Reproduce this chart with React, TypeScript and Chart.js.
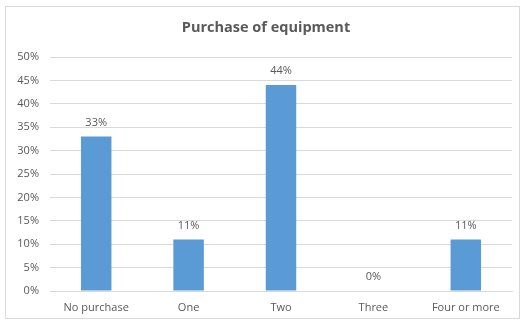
import React, { useEffect, useRef } from "react";
import { Chart, registerables } from "chart.js";

Chart.register(...registerables);

const categories = ["No purchase", "One", "Two", "Three", "Four or more"];
const values = [33, 11, 44, 0, 11];
const labels = ["33%", "11%", "44%", "0%", "11%"];
const titleText = "Purchase of equipment";

const FONT = "'Open Sans', 'Liberation Sans', sans-serif";

const dataLabelPlugin = {
  id: "dataLabels",
  afterDatasetsDraw(chart: any) {
    const ctx = chart.ctx;
    const meta = chart.getDatasetMeta(0);
    ctx.save();
    ctx.fillStyle = "#595959";
    ctx.font = `11px ${FONT}`;
    ctx.textAlign = "center";
    ctx.textBaseline = "middle";
    meta.data.forEach((bar: any, i: number) => {
      ctx.fillText(labels[i], bar.x, bar.y - 14);
    });
    ctx.restore();
  },
};

const titlePlugin = {
  id: "customTitle",
  afterDraw(chart: any) {
    const ctx = chart.ctx;
    ctx.save();
    ctx.fillStyle = "#595959";
    ctx.font = `bold 14.5px ${FONT}`;
    ctx.textAlign = "center";
    ctx.textBaseline = "middle";
    ctx.fillText(titleText, 266, 28);
    ctx.restore();
  },
};

export default function App() {
  const ref = useRef<HTMLCanvasElement>(null);
  useEffect(() => {
    document.body.style.margin = "0";
    const chart = new Chart(ref.current!, {
      type: "bar",
      data: {
        labels: categories,
        datasets: [
          {
            data: values,
            backgroundColor: "#5B9BD5",
            barPercentage: 0.33,
            categoryPercentage: 1,
          },
        ],
      },
      options: {
        animation: false,
        responsive: false,
        layout: { padding: { left: 5, right: 13, top: 57, bottom: 0 } },
        plugins: {
          legend: { display: false },
          tooltip: { enabled: false },
          title: { display: false },
        },
        scales: {
          x: {
            afterFit: (s: any) => { s.height = 32; },
            grid: { display: false, drawTicks: false },
            border: { color: "#d9d9d9" },
            ticks: { color: "#595959", font: { family: FONT, size: 11 }, padding: 10, maxRotation: 0 },
          },
          y: {
            min: 0,
            max: 50,
            afterFit: (s: any) => { s.width = 45; },
            grid: { color: "#d9d9d9", drawTicks: false },
            border: { display: false },
            ticks: {
              stepSize: 5,
              color: "#595959",
              font: { family: FONT, size: 11 },
              padding: 11,
              callback: (v: any) => `${v}%`,
            },
          },
        },
      },
      plugins: [dataLabelPlugin, titlePlugin],
    });
    return () => chart.destroy();
  }, []);
  return (
    <div style={{ position: "fixed", left: 0, top: 0, width: 525, height: 323, background: "#fff" }}>
      <canvas ref={ref} width={525} height={323} style={{ position: "absolute", left: 0, top: 0 }} />
      <div
        style={{
          position: "absolute",
          left: 5,
          top: 6,
          width: 513,
          height: 311,
          border: "1px solid #d9d9d9",
          pointerEvents: "none",
        }}
      />
    </div>
  );
}
